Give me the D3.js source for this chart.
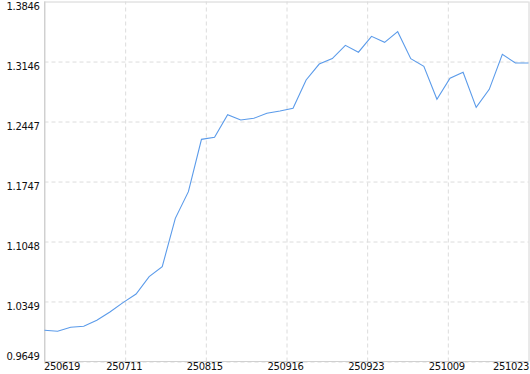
<!DOCTYPE html>
<html><head><meta charset="utf-8">
<script src="https://cdn.jsdelivr.net/npm/d3@7/dist/d3.min.js"></script>
<style>
html,body{margin:0;padding:0;background:#fff;}
svg{display:block;}
text{font-family:"DejaVu Sans",Verdana,sans-serif;font-size:10px;fill:#111;letter-spacing:-0.35px;}
</style></head>
<body>
<svg id="chart" width="530" height="374"></svg>
<script>
const dates = [
 "250619","250623","250626","250630","250703","250707",
 "250711","250718","250725","250801","250805","250808",
 "250815","250822","250829","250903","250905","250910","250912",
 "250916","250917","250918","250919","250920","250922",
 "250923","250924","250925","250926","250929","250930",
 "251009","251010","251014","251016","251017","251021","251023"
];
const values = [
 1.0013,1.0001,1.0048,1.0059,1.0129,1.0226,
 1.0335,1.0436,1.0638,1.0754,1.1318,1.1629,
 1.2239,1.2263,1.2526,1.2464,1.2484,1.2543,1.2569,
 1.2601,1.2931,1.3117,1.3181,1.3335,1.3255,
 1.3440,1.3370,1.3494,1.3179,1.3090,1.2706,
 1.2951,1.3021,1.2612,1.2822,1.3230,1.3129,1.3129
];
const yTickLabels = ["0.9649","1.0349","1.1048","1.1747","1.2447","1.3146","1.3846"];
const xTickCount = 7;

const svg = d3.select("#chart");
const pL = 44.5, pR = 528.5, pT = 1.5, pB = 361.5;
const n = values.length;

const x = d3.scaleLinear().domain([0, n - 1]).range([pL, pR]);
const yTicks = yTickLabels.map(Number);
const y = d3.scaleLinear().domain([yTicks[0], yTicks[yTicks.length - 1]]).range([pB, pT]);

const xTickVals = d3.range(xTickCount).map(k => (n - 1) * k / (xTickCount - 1));

// horizontal gridlines
const gy = svg.append("g").attr("transform", `translate(${pL},0)`)
  .call(d3.axisLeft(y).tickValues(yTicks).tickSize(-(pR - pL)).tickFormat((d,i) => yTickLabels[i]).tickPadding(5));
gy.select(".domain").remove();
gy.selectAll(".tick line")
  .attr("stroke-dasharray", (d,i) => i === yTicks.length - 1 ? null : "4,3")
  .attr("stroke", (d,i) => i === yTicks.length - 1 ? "#d4d4d4" : "#dcdcdc");
gy.selectAll(".tick text").attr("dy", null)
  .attr("y", (d,i) => i === 0 ? -2 : 7.8)
  .attr("x", -5)
  .style("font-size", "10px").attr("fill", "#111");

// vertical gridlines + x labels
const gx = svg.append("g").attr("transform", `translate(0,${pB})`)
  .call(d3.axisBottom(x).tickValues(xTickVals).tickSize(-(pB - pT))
    .tickFormat(v => dates[Math.round(v)]).tickPadding(3));
gx.select(".domain").remove();
gx.selectAll(".tick line")
  .attr("stroke", (d,i) => (i === 0 || i === xTickCount - 1) ? "#d4d4d4" : "#dcdcdc")
  .attr("stroke-dasharray", (d,i) => (i === 0 || i === xTickCount - 1) ? null : "4,3");
gx.selectAll(".tick text")
  .attr("text-anchor", (d,i) => i === 0 ? "start" : (i === xTickCount - 1 ? "end" : "middle"))
  .attr("x", (d,i) => i === 0 ? -1 : (i === xTickCount - 1 ? 0 : -1.5))
  .attr("y", 1.5).attr("dy", "0.71em")
  .style("font-size", "10px").attr("fill", "#111");

// axis lines
svg.append("line").attr("x1", pL).attr("x2", pL).attr("y1", pT).attr("y2", pB).attr("stroke", "#d0d0d0");
svg.append("line").attr("x1", pL).attr("x2", pR).attr("y1", pB).attr("y2", pB).attr("stroke", "#d0d0d0");

// series line
const line = d3.line().x((d,i) => x(i)).y(d => y(d));
svg.append("path").datum(values).attr("d", line)
  .attr("fill", "none").attr("stroke", "#5b9bea").attr("stroke-width", 1.1);
</script>
</body></html>
